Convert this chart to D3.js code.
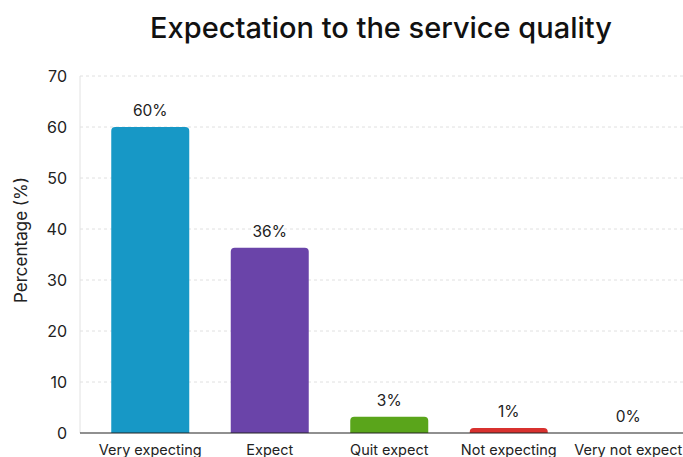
<!DOCTYPE html>
<html><head><meta charset="utf-8">
<script src="https://cdn.jsdelivr.net/npm/d3@7"></script>
<style>body{margin:0;background:#fff}svg{display:block}</style>
</head><body>
<svg id="c" width="683" height="457"></svg>
<script>
const categories = ["Very expecting", "Expect", "Quit expect", "Not expecting", "Very not expect"];
const values = [60, 36.3, 3.2, 1, 0];
const valueLabels = ["60%", "36%", "3%", "1%", "0%"];
const colors = ["#1798c6", "#6a44a9", "#5aa51b", "#d8312f", "#999999"];
const yTicks = [0, 10, 20, 30, 40, 50, 60, 70];
const chartTitle = "Expectation to the service quality";
const yTitle = "Percentage (%)";

const svg = d3.select("#c");
const font = "Inter, 'Noto Sans', sans-serif";
const pLeft = 80, pRight = 683, pTop = 76, pBottom = 433;

const x = d3.scaleBand().domain(categories).range([90.5, 688]).padding(0);
const y = d3.scaleLinear().domain([0, 70]).range([pBottom, pTop]);
const bw = 78;

// grid
svg.append("g").selectAll("line").data(yTicks.filter(d => d > 0)).join("line")
  .attr("x1", pLeft).attr("x2", pRight)
  .attr("y1", d => y(d)).attr("y2", d => y(d))
  .attr("stroke", "#e0e0e0").attr("stroke-dasharray", "3,3").attr("stroke-width", 1);

// left axis line
svg.append("line").attr("x1", pLeft).attr("x2", pLeft).attr("y1", pTop).attr("y2", pBottom)
  .attr("stroke", "#e2e2e2");

// y tick labels
svg.append("g").selectAll("text").data(yTicks).join("text")
  .attr("x", 67).attr("y", d => y(d)).attr("dy", "0.35em")
  .attr("text-anchor", "end").attr("font-family", font).attr("font-size", 16)
  .attr("fill", "#222").text(d => d);

// bars with rounded top
const r = 4;
svg.append("g").selectAll("path").data(values).join("path")
  .attr("d", (d, i) => {
    const cx = x(categories[i]) + x.bandwidth() / 2;
    const x0 = cx - bw / 2, x1 = cx + bw / 2;
    const y0 = y(d), yb = y(0);
    if (yb - y0 <= 0) return "";
    const rr = Math.min(r, (yb - y0));
    return `M${x0},${yb}V${y0 + rr}Q${x0},${y0} ${x0 + rr},${y0}H${x1 - rr}Q${x1},${y0} ${x1},${y0 + rr}V${yb}Z`;
  })
  .attr("fill", (d, i) => colors[i]);

// value labels
svg.append("g").selectAll("text").data(values).join("text")
  .attr("x", (d, i) => x(categories[i]) + x.bandwidth() / 2)
  .attr("y", d => y(d) - 11)
  .attr("text-anchor", "middle").attr("font-family", font).attr("font-size", 15.5)
  .attr("fill", "#222").text((d, i) => valueLabels[i]);

// baseline
svg.append("line").attr("x1", pLeft).attr("x2", pRight).attr("y1", pBottom).attr("y2", pBottom)
  .attr("stroke", "#222").attr("stroke-width", 1.2);

// category labels
svg.append("g").selectAll("text").data(categories).join("text")
  .attr("x", d => x(d) + x.bandwidth() / 2)
  .attr("y", 455)
  .attr("text-anchor", "middle").attr("font-family", font).attr("font-size", 14.5)
  .attr("fill", "#222").text(d => d);

// y title
svg.append("text").attr("transform", "translate(21,240) rotate(-90)")
  .attr("dy", "0.35em")
  .attr("text-anchor", "middle").attr("font-family", font).attr("font-size", 17)
  .attr("fill", "#222").text(yTitle);

// title
const t = svg.append("text").attr("x", 381).attr("y", 38)
  .attr("text-anchor", "middle").attr("font-family", font).attr("font-size", 30)
  .attr("font-weight", 500).attr("fill", "#111").text(chartTitle);
const w = t.node().getComputedTextLength();
t.attr("font-size", 30 * 462 / w);
</script>
</body></html>
